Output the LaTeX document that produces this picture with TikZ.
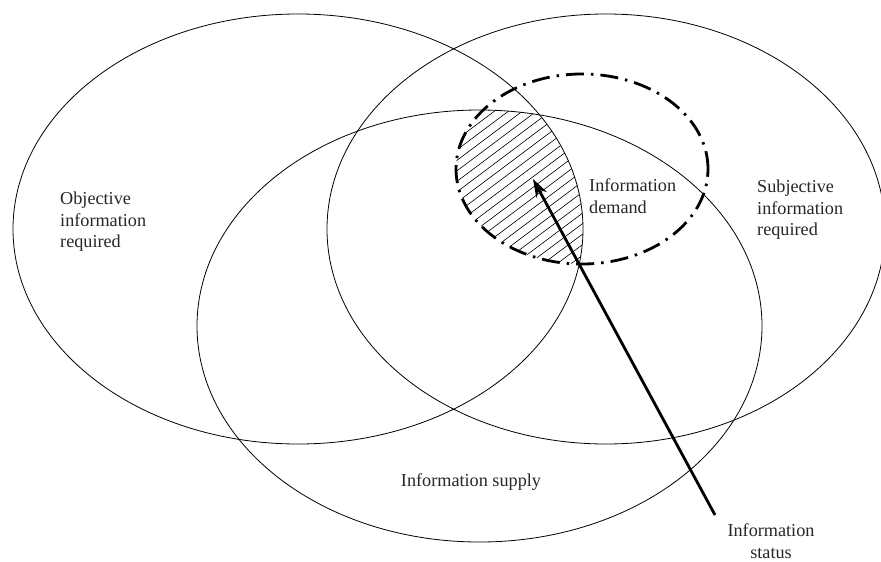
\documentclass[tikz,border=0pt]{standalone}
\usepackage{fontspec}
\setmainfont{Liberation Serif}
\usetikzlibrary{arrows.meta}

\begin{document}
\begin{tikzpicture}[x=1pt, y=-1pt,
    venn/.style={line width=0.8pt},
    demandset/.style={line width=2.8pt, dash pattern=on 18pt off 7pt on 2.5pt off 7pt},
    hatch/.style={line width=0.6pt},
    txt/.style={inner sep=0pt, align=left, text=black!85, font=\fontsize{18.2}{21.5}\selectfont},
    arrow/.style={-{Stealth[length=18pt, width=12pt]}, line width=2.8pt}
]
\useasboundingbox (0,0) rectangle (881,562);

% hatched part of the demand
\begin{scope}
  \clip (582,169) ellipse [x radius=126pt, y radius=95pt];
  \clip (298,229) ellipse [x radius=285pt, y radius=215pt];
  \clip (479.5,326) ellipse [x radius=282.5pt, y radius=216pt];
  \foreach \k in {140,150.5,...,420}
    \draw[hatch] (400,\k) -- ++(260,-195);
\end{scope}

% sets
\draw[venn] (298,229) ellipse [x radius=285pt, y radius=215pt];
\draw[venn] (606,229) ellipse [x radius=279pt, y radius=215pt];
\draw[venn] (479.5,326) ellipse [x radius=282.5pt, y radius=216pt];
\draw[demandset] (582,169) ellipse [x radius=126pt, y radius=95pt];

% labels
\node[txt, anchor=west] (objective) at (60,222) {Objective\\information\\required};
\node[txt, anchor=west] (subjective) at (757,210) {Subjective\\information\\required};
\node[txt, anchor=west] (demand) at (589,196) {Information\\demand};
\node[txt] (supply) at (471,482) {Information supply};
\node[txt, align=center] (status) at (771,541) {Information\\status};

\coordinate (statusTail) at (715,515);
\coordinate (statusTip) at (533,179);
\draw[arrow] (statusTail) -- (statusTip);
\end{tikzpicture}
\end{document}
